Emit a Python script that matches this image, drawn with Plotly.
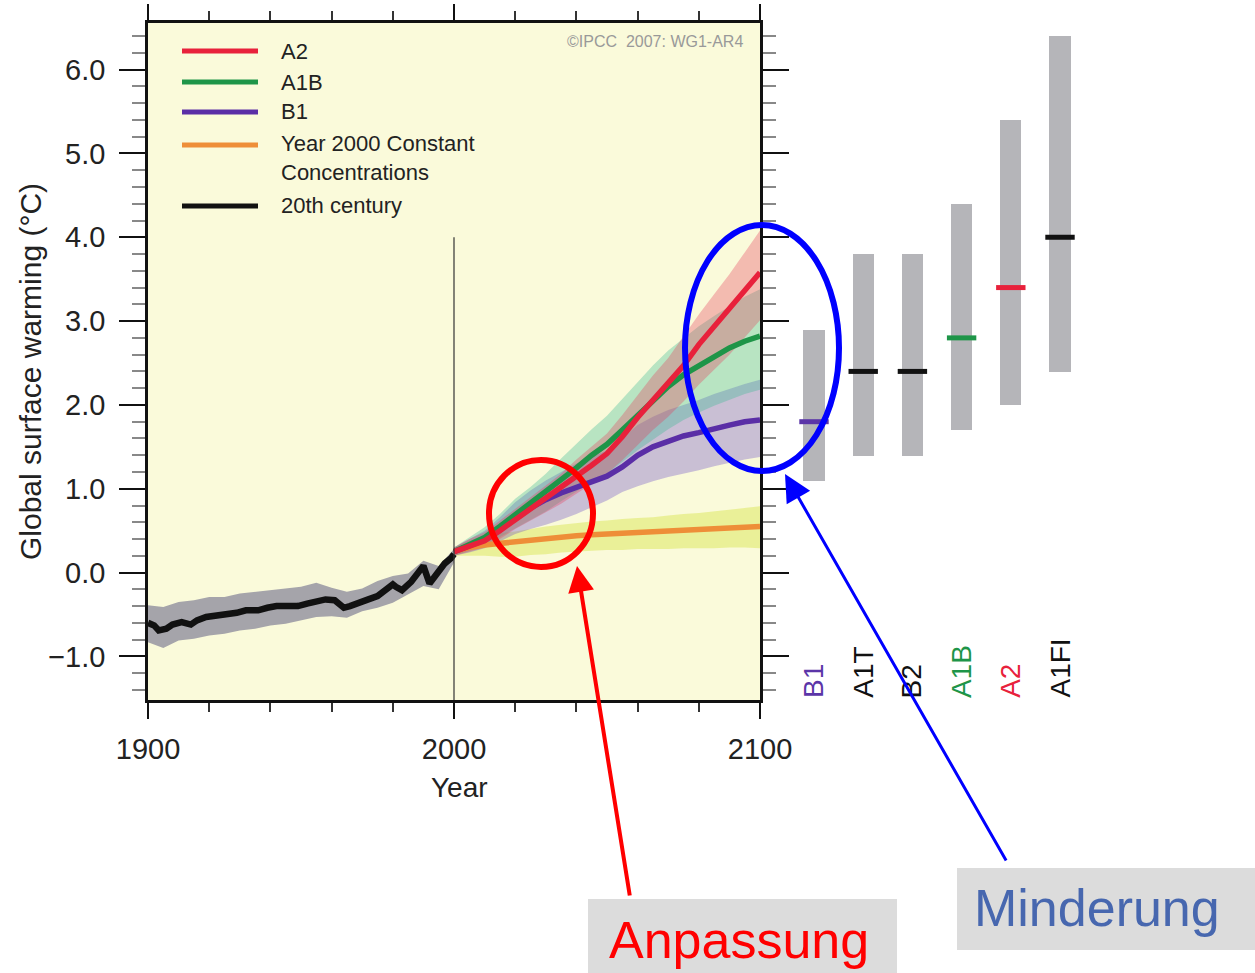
import plotly.graph_objects as go

W, H = 1255, 973
FONT = "Liberation Sans, Arial, sans-serif"

# ---------------- data ----------------
hist_years = [1900, 1902, 1903.5, 1906, 1908, 1911, 1914, 1916, 1919, 1922, 1926, 1929, 1932, 1936,
              1939, 1942, 1945, 1949, 1952, 1958, 1961, 1964, 1966, 1969, 1972, 1975, 1977, 1980,
              1981, 1983, 1986, 1988, 1990, 1992, 1995, 1997, 1999, 2000]
hist_mean = [-0.60, -0.63, -0.69, -0.67, -0.62, -0.59, -0.62, -0.57, -0.53, -0.52, -0.49, -0.48, -0.45, -0.45,
             -0.42, -0.40, -0.40, -0.40, -0.37, -0.32, -0.33, -0.42, -0.40, -0.35, -0.32, -0.28, -0.23, -0.14,
             -0.17, -0.21, -0.11, -0.01, 0.08, -0.13, 0.02, 0.11, 0.17, 0.22]
hist_band_years = [1900, 1905, 1910, 1915, 1920, 1925, 1930, 1935, 1940, 1945, 1950,
                   1955, 1960, 1965, 1970, 1975, 1980, 1985, 1990, 1995, 2000]
hist_upper = [-0.39, -0.41, -0.35, -0.33, -0.29, -0.29, -0.25, -0.23, -0.21, -0.19, -0.17,
              -0.12, -0.18, -0.23, -0.19, -0.10, -0.04, -0.01, 0.14, 0.08, 0.28]
hist_lower = [-0.83, -0.90, -0.81, -0.79, -0.75, -0.73, -0.69, -0.67, -0.63, -0.61, -0.57,
              -0.53, -0.52, -0.54, -0.46, -0.42, -0.36, -0.26, -0.16, -0.20, 0.12]

proj_years = [2000, 2005, 2010, 2015, 2020, 2025, 2030, 2035, 2040, 2045, 2050,
              2055, 2060, 2065, 2070, 2075, 2080, 2085, 2090, 2095, 2100]
a2_mean = [0.25, 0.32, 0.38, 0.50, 0.63, 0.75, 0.87, 1.00, 1.15, 1.28, 1.42,
           1.62, 1.85, 2.05, 2.25, 2.47, 2.72, 2.94, 3.16, 3.38, 3.58]
a2_low = [0.20, 0.25, 0.30, 0.40, 0.52, 0.62, 0.72, 0.82, 0.95, 1.06, 1.18,
          1.34, 1.52, 1.70, 1.86, 2.04, 2.24, 2.42, 2.60, 2.80, 3.01]
a2_high = [0.30, 0.40, 0.48, 0.62, 0.76, 0.90, 1.03, 1.18, 1.35, 1.50, 1.66,
           1.88, 2.12, 2.35, 2.56, 2.82, 3.08, 3.32, 3.56, 3.82, 4.08]
a1b_mean = [0.25, 0.33, 0.42, 0.55, 0.69, 0.82, 0.95, 1.10, 1.25, 1.40, 1.53,
            1.70, 1.88, 2.05, 2.22, 2.36, 2.47, 2.58, 2.68, 2.76, 2.82]
a1b_low = [0.20, 0.26, 0.32, 0.42, 0.53, 0.63, 0.73, 0.85, 0.97, 1.08, 1.18,
           1.32, 1.46, 1.59, 1.71, 1.82, 1.91, 1.99, 2.06, 2.13, 2.18]
a1b_high = [0.30, 0.42, 0.54, 0.70, 0.88, 1.02, 1.18, 1.36, 1.54, 1.71, 1.87,
            2.07, 2.28, 2.47, 2.65, 2.80, 2.94, 3.06, 3.18, 3.29, 3.38]
b1_mean = [0.25, 0.32, 0.39, 0.52, 0.66, 0.77, 0.87, 0.95, 1.02, 1.08, 1.15,
           1.26, 1.40, 1.50, 1.57, 1.63, 1.67, 1.72, 1.76, 1.80, 1.82]
b1_low = [0.20, 0.24, 0.29, 0.37, 0.46, 0.52, 0.57, 0.63, 0.70, 0.78, 0.86,
          0.96, 1.03, 1.09, 1.14, 1.18, 1.22, 1.27, 1.31, 1.35, 1.38]
b1_high = [0.30, 0.40, 0.50, 0.66, 0.84, 0.98, 1.10, 1.20, 1.30, 1.38, 1.46,
           1.60, 1.76, 1.86, 1.94, 2.00, 2.06, 2.13, 2.19, 2.25, 2.30]
const_mean = [0.25, 0.30, 0.33, 0.35, 0.36, 0.38, 0.40, 0.42, 0.44, 0.45, 0.46,
              0.47, 0.48, 0.49, 0.50, 0.51, 0.51, 0.53, 0.53, 0.54, 0.55]
const_low = [0.20, 0.20, 0.20, 0.19, 0.19, 0.21, 0.22, 0.24, 0.25, 0.26, 0.27,
             0.27, 0.28, 0.28, 0.28, 0.29, 0.29, 0.29, 0.30, 0.30, 0.29]
const_high = [0.30, 0.38, 0.44, 0.47, 0.49, 0.52, 0.55, 0.57, 0.59, 0.61, 0.62,
              0.64, 0.65, 0.66, 0.68, 0.70, 0.71, 0.73, 0.75, 0.77, 0.79]

bar_names = ["B1", "A1T", "B2", "A1B", "A2", "A1FI"]
bar_low = [1.1, 1.4, 1.4, 1.7, 2.0, 2.4]
bar_high = [2.9, 3.8, 3.8, 4.4, 5.4, 6.4]
bar_best = [1.8, 2.4, 2.4, 2.8, 3.4, 4.0]
bar_colors = ["#5B35A8", "#111111", "#111111", "#1E9548", "#E8213B", "#111111"]

legend_labels = ["A2", "A1B", "B1", "Year 2000 Constant<br>Concentrations", "20th century"]
legend_colors = ["#E8213B", "#1E9548", "#5A2EA6", "#EE8E38", "#111111"]

# ---------------- helpers ----------------
def px(x):
    return x / W

def py(y):
    return 1 - y / H

def band(xs, lo, hi, color):
    return go.Scatter(x=list(xs) + list(xs)[::-1], y=list(hi) + list(lo)[::-1],
                      fill="toself", fillcolor=color, line=dict(width=0),
                      mode="lines", hoverinfo="skip", showlegend=False)

def line(xs, ys, color, width=5.5):
    return go.Scatter(x=xs, y=ys, mode="lines", line=dict(color=color, width=width),
                      showlegend=False)

fig = go.Figure()

# bands
fig.add_trace(band(hist_band_years, hist_lower, hist_upper, "rgba(165,164,170,1)"))
fig.add_trace(band(proj_years, const_low, const_high, "rgba(215,228,70,0.45)"))
fig.add_trace(band(proj_years, b1_low, b1_high, "rgba(110,80,200,0.35)"))
fig.add_trace(band(proj_years, a1b_low, a1b_high, "rgba(60,185,150,0.35)"))
fig.add_trace(band(proj_years, a2_low, a2_high, "rgba(230,60,90,0.33)"))

# lines
fig.add_trace(line(proj_years, const_mean, legend_colors[3]))
fig.add_trace(line(proj_years, b1_mean, legend_colors[2]))
fig.add_trace(line(proj_years, a1b_mean, legend_colors[1]))
fig.add_trace(line(proj_years, a2_mean, legend_colors[0]))
fig.add_trace(line(hist_years, hist_mean, legend_colors[4], 6.5))

# right-hand range bars
idx = list(range(len(bar_names)))
fig.add_trace(go.Bar(x=idx, y=[h - l for h, l in zip(bar_high, bar_low)], base=bar_low,
                     width=0.43, marker=dict(color="#B5B5B9", line=dict(width=0)),
                     xaxis="x2", yaxis="y", showlegend=False))
fig.add_trace(go.Scatter(x=idx, y=bar_best, mode="markers", xaxis="x2", yaxis="y",
                         marker=dict(symbol="line-ew", size=21,
                                     line=dict(width=5, color=bar_colors)),
                         showlegend=False))

x_dom = [148 / W, 760 / W]
y_dom = [1 - 700 / H, 1 - 22.7 / H]
YR = [-1.52, 6.56]

fig.update_layout(
    width=W, height=H, margin=dict(l=0, r=0, t=0, b=0, autoexpand=False),
    paper_bgcolor="white", plot_bgcolor="rgba(0,0,0,0)",
    font=dict(family=FONT, color="#222"),
    showlegend=False, bargap=0,
    xaxis=dict(domain=x_dom, range=[1900, 2100], anchor="y", automargin=False,
               showline=True, linecolor="#111", linewidth=2.5, mirror="ticks",
               ticks="outside", ticklen=16, tickwidth=2, tickcolor="#111",
               tick0=1900, dtick=100, tickfont=dict(size=29, color="#222"),
               minor=dict(dtick=20, ticks="outside", ticklen=9, tickwidth=1.5, tickcolor="#333"),
               showgrid=False, zeroline=False, ticklabelstandoff=5),
    yaxis=dict(domain=y_dom, range=YR, anchor="x", automargin=False,
               showline=True, linecolor="#111", linewidth=2.5, mirror="ticks",
               ticks="outside", ticklen=26, tickwidth=2, tickcolor="#111",
               tick0=0, dtick=1, tickformat=".1f", tickfont=dict(size=29, color="#222"),
               minor=dict(dtick=0.2, ticks="outside", ticklen=13, tickwidth=1.5, tickcolor="#888"),
               showgrid=False, zeroline=False, ticklabelstandoff=8),
    xaxis2=dict(domain=[760 / W, 1], range=[-1.0976, 8.963], anchor="y", visible=False,
                automargin=False, showgrid=False, zeroline=False),
)

shapes = []
# yellow plot background
shapes.append(dict(type="rect", xref="x domain", yref="y domain", x0=0, x1=1, y0=0, y1=1,
                   fillcolor="#FAFADA", line=dict(width=0), layer="below"))
# year 2000 marker line
shapes.append(dict(type="line", xref="x", yref="y", x0=2000, x1=2000, y0=YR[0], y1=4.0,
                   line=dict(color="#333", width=1.2), layer="above"))
# legend swatches
leg_y = [51, 82, 112, 145, 206]
for yy, c in zip(leg_y, legend_colors):
    shapes.append(dict(type="line", xref="paper", yref="paper", x0=px(182), x1=px(258),
                       y0=py(yy), y1=py(yy), line=dict(color=c, width=5)))
# red circle & blue ellipse
shapes.append(dict(type="circle", xref="paper", yref="paper", x0=px(489), x1=px(593),
                   y0=py(567), y1=py(460), line=dict(color="#FF0000", width=6)))
shapes.append(dict(type="circle", xref="paper", yref="paper", x0=px(685), x1=px(839),
                   y0=py(471), y1=py(225), line=dict(color="#0000FF", width=6)))
# grey label boxes
shapes.append(dict(type="rect", xref="paper", yref="paper", x0=px(588), x1=px(897),
                   y0=py(973), y1=py(899), fillcolor="#DCDCDC", line=dict(width=0)))
shapes.append(dict(type="rect", xref="paper", yref="paper", x0=px(957), x1=px(1255),
                   y0=py(950), y1=py(868), fillcolor="#DCDCDC", line=dict(width=0)))
fig.update_layout(shapes=shapes)

ann = []
# legend texts
leg_text_y = [51, 82, 112, 158, 206]
for yy, t in zip(leg_text_y, legend_labels):
    ann.append(dict(xref="paper", yref="paper", x=px(279), y=py(yy), text=t, showarrow=False,
                    xanchor="left", yanchor="middle", align="left",
                    font=dict(size=22, color="#222", family=FONT)))
ann.append(dict(xref="paper", yref="paper", x=px(745), y=py(41), text="©IPCC  2007: WG1-AR4",
                showarrow=False, xanchor="right", yanchor="middle",
                font=dict(size=16, color="#999", family=FONT)))
# axis titles
ann.append(dict(xref="paper", yref="paper", x=px(30), y=py(372),
                text="Global surface warming (°C)", textangle=-90, showarrow=False,
                xanchor="center", yanchor="middle", font=dict(size=30, color="#222", family=FONT)))
ann.append(dict(xref="paper", yref="paper", x=px(459), y=py(787), text="Year", showarrow=False,
                xanchor="center", yanchor="middle", font=dict(size=28, color="#222", family=FONT)))
# bar labels
for i, (n, c) in enumerate(zip(bar_names, bar_colors)):
    ann.append(dict(xref="x2", yref="y", x=i, y=YR[0], text=n, textangle=-90, showarrow=False,
                    xanchor="center", yanchor="bottom", font=dict(size=28, color=c, family=FONT)))
# arrows
ann.append(dict(xref="paper", yref="paper", x=px(577), y=py(566), ax=53, ay=331,
                axref="pixel", ayref="pixel", text="", showarrow=True,
                arrowhead=2, arrowsize=1.3, arrowwidth=4, arrowcolor="#FF0000", standoff=0))
ann.append(dict(xref="paper", yref="paper", x=px(785), y=py(474), ax=222, ay=388,
                axref="pixel", ayref="pixel", text="", showarrow=True,
                arrowhead=2, arrowsize=1.8, arrowwidth=3, arrowcolor="#0000FF", standoff=0))
# box labels
ann.append(dict(xref="paper", yref="paper", x=px(739), y=py(940), text="Anpassung", showarrow=False,
                xanchor="center", yanchor="middle", font=dict(size=52, color="#FF0000", family=FONT)))
ann.append(dict(xref="paper", yref="paper", x=px(1097), y=py(908), text="Minderung", showarrow=False,
                xanchor="center", yanchor="middle", font=dict(size=52, color="#4767AF", family=FONT)))
fig.update_layout(annotations=ann)

fig.write_html("out.html")
